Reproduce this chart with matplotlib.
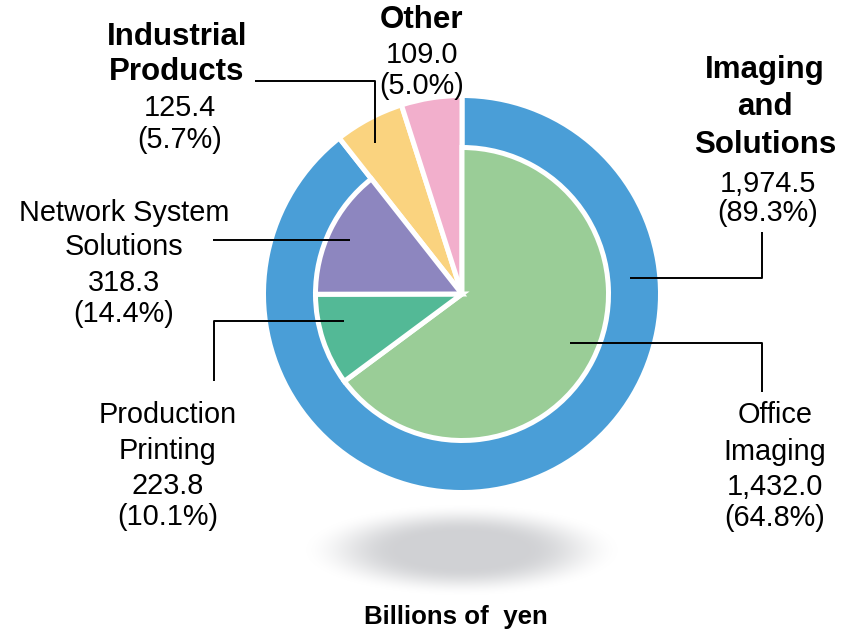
import numpy as np
import matplotlib
matplotlib.use("Agg")
import matplotlib.pyplot as plt

plt.rcParams['font.family'] = ['Liberation Sans', 'DejaVu Sans']

# segment data (billions of yen)
outer_names = ["Imaging and Solutions", "Industrial Products", "Other"]
outer_values = [1974.5, 125.4, 109.0]
outer_pcts = [89.3, 5.7, 5.0]
inner_names = ["Office Imaging", "Production Printing", "Network System Solutions"]
inner_values = [1432.0, 223.8, 318.3]
inner_pcts = [64.8, 10.1, 14.4]

blue = "#4A9ED7"
yellow = "#FAD37F"
pink = "#F2AFCC"
green = "#9ACD97"
teal = "#53B996"
purple = "#8D86BF"

W, H = 849, 635
fig = plt.figure(figsize=(W / 100, H / 100), dpi=100)
ax = fig.add_axes([0, 0, 1, 1])

def Y(y):
    return H - y

cx, cy = 462, Y(294)

# shadow under the pie
gx = np.linspace(-1.1, 1.1, 400)
gy = np.linspace(-1.1, 1.1, 200)
XX, YY = np.meshgrid(gx, gy)
rr = np.sqrt(XX ** 2 + YY ** 2)
t = np.clip((1.0 - rr) / 0.6, 0, 1)
alpha = t * t * (3 - 2 * t) * 0.95
img = np.zeros((200, 400, 4))
img[..., 0] = 0.81
img[..., 1] = 0.815
img[..., 2] = 0.825
img[..., 3] = alpha
ax.imshow(img, extent=(462 - 160 * 1.1, 462 + 160 * 1.1, Y(550) - 46 * 1.1, Y(550) + 46 * 1.1),
          zorder=0, interpolation="bilinear", aspect="auto")

# outer pie / ring
ax.pie(outer_values, colors=[blue, yellow, pink], startangle=90, counterclock=False,
       radius=198.5, center=(cx, cy), frame=True,
       wedgeprops=dict(edgecolor="white", linewidth=3.6))

# inner pie (sub-segments of Imaging and Solutions)
w_in, _ = ax.pie(inner_values + outer_values[1:], colors=[green, teal, purple, "none", "none"],
                 startangle=90, counterclock=False, radius=146.5, center=(cx, cy), frame=True,
                 wedgeprops=dict(edgecolor="white", linewidth=3.6))
for w in w_in[3:]:
    w.set_visible(False)

ax.set_xlim(0, W)
ax.set_ylim(0, H)
ax.set_aspect("equal")
ax.axis("off")

def lines(x, ys, strs, bold=False, size=20.8):
    for y, s in zip(ys, strs):
        ax.text(x, Y(y), s, ha="center", va="center", fontsize=size,
                fontweight="bold" if bold else "normal", color="black")

def fmt(v):
    return f"{v:,.1f}"

# Industrial Products
lines(177, [37, 72], ["Industrial", "Products"], bold=True, size=22.5)
lines(180, [108, 140], [fmt(outer_values[1]), f"({outer_pcts[1]}%)"])
# Other
lines(422, [20], ["Other"], bold=True, size=22.5)
lines(422, [55, 86], [fmt(outer_values[2]), f"({outer_pcts[2]}%)"])
# Imaging and Solutions
lines(765, [70, 107, 145], ["Imaging", "and", "Solutions"], bold=True, size=22.5)
lines(768, [184, 213], [fmt(outer_values[0]), f"({outer_pcts[0]}%)"])
# Network System Solutions
lines(124, [213, 247, 283, 314], ["Network System", "Solutions", fmt(inner_values[2]), f"({inner_pcts[2]}%)"])
# Production Printing
lines(168, [415, 451, 486, 517], ["Production", "Printing", fmt(inner_values[1]), f"({inner_pcts[1]}%)"])
# Office Imaging
lines(775, [415, 452, 487, 518], ["Office", "Imaging", fmt(inner_values[0]), f"({inner_pcts[0]}%)"])

ax.text(456, Y(617), "Billions of  yen", ha="center", va="center", fontsize=18.6, fontweight="bold")

# leader lines
lk = dict(color="black", lw=1.4, solid_capstyle="butt")
ax.plot([255, 375, 375], [Y(81), Y(81), Y(143)], **lk)
ax.plot([762, 762, 630], [Y(232), Y(278), Y(278)], **lk)
ax.plot([213, 350], [Y(240), Y(240)], **lk)
ax.plot([214, 214, 344], [Y(381), Y(321), Y(321)], **lk)
ax.plot([570, 762, 762], [Y(343), Y(343), Y(392)], **lk)

fig.savefig("out.png", dpi=100)
